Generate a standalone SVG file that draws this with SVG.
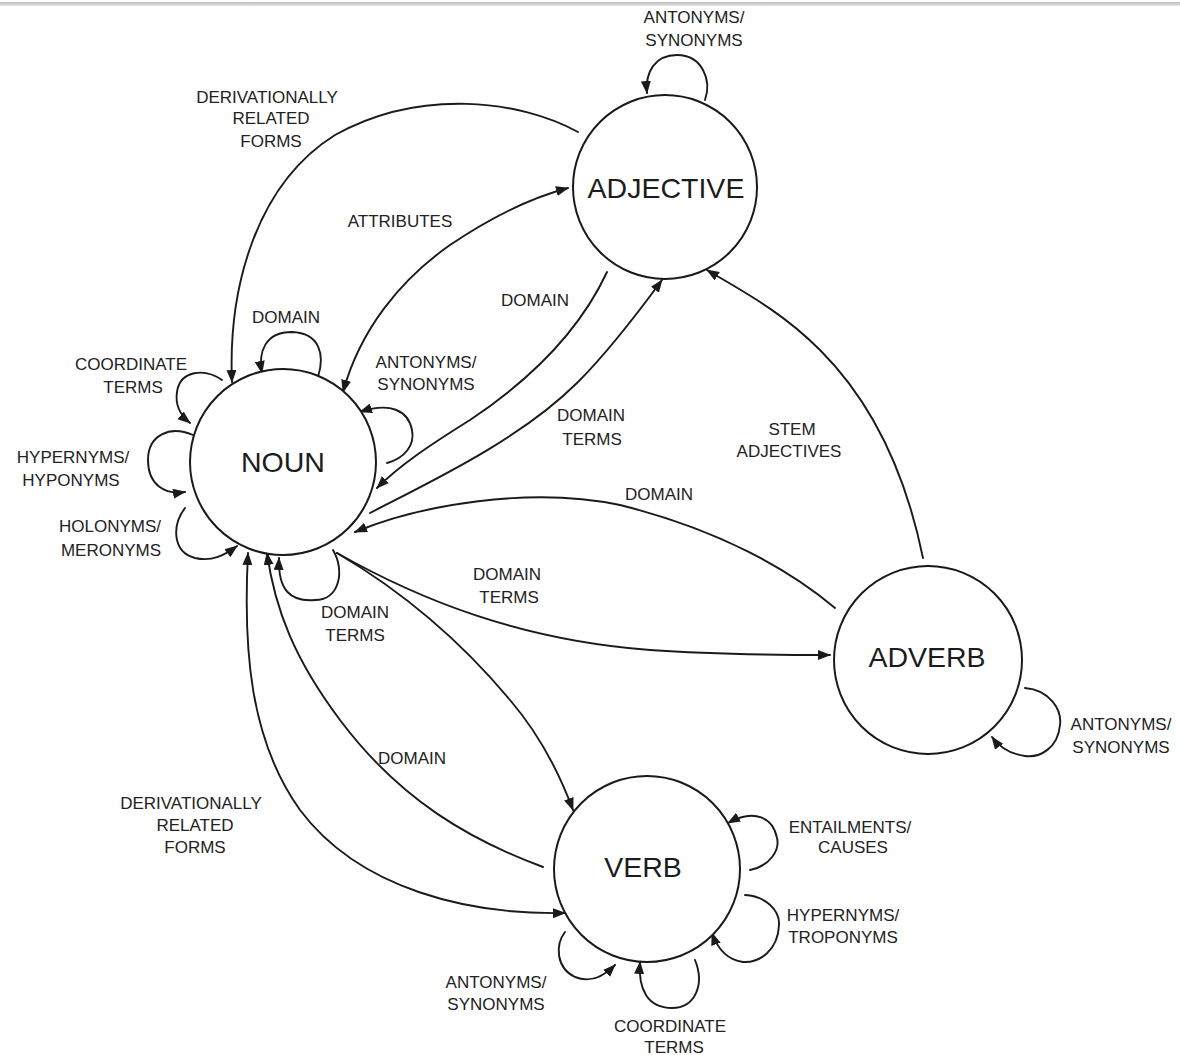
<svg xmlns="http://www.w3.org/2000/svg" width="1180" height="1055" viewBox="0 0 1180 1055">
  <defs>
    <marker id="arrow" markerUnits="userSpaceOnUse" markerWidth="13" markerHeight="10" refX="12" refY="5" orient="auto-start-reverse">
      <path d="M0,0 L13,5 L0,10 z" fill="#1a1a1a"/>
    </marker>
    <linearGradient id="bar" x1="0" y1="0" x2="0" y2="1">
      <stop offset="0" stop-color="#bdbdbd"/>
      <stop offset="1" stop-color="#e6e6e6"/>
    </linearGradient>
  </defs>
  <style>
    .node circle { fill: #ffffff; stroke: #1a1a1a; stroke-width: 2; }
    .node text { font-family: "Liberation Sans", Arial, sans-serif; font-size: 28.5px; fill: #1c1c1c; text-anchor: middle; }
    .edge { fill: none; stroke: #1a1a1a; stroke-width: 1.9; stroke-linecap: round; }
    .end { marker-end: url(#arrow); }
    .both { marker-start: url(#arrow); marker-end: url(#arrow); }
    .lbl { font-family: "Liberation Sans", Arial, sans-serif; font-size: 17px; fill: #222222; text-anchor: middle; }
  </style>

  <rect width="1180" height="1055" fill="#ffffff"/>
  <rect x="0" y="2" width="1180" height="4" fill="url(#bar)"/>

  <!-- connectors -->
  <g id="connectors">
    <!-- adjective -> noun: derivationally related forms -->
    <path class="edge end" d="M578,132 C520,100 420,88 335,135 C255,185 228,290 232,382"/>
    <!-- noun <-> adjective: attributes -->
    <path class="edge both" d="M343,392 C360,330 400,280 450,245 C490,218 530,198 568,188"/>
    <!-- adjective -> noun: domain -->
    <path class="edge end" d="M607,272 C580,330 530,380 470,420 C430,445 400,465 377,488"/>
    <!-- noun -> adjective: domain terms -->
    <path class="edge end" d="M370,513 C430,482 520,440 578,382 C610,350 640,310 662,280"/>
    <!-- adverb -> noun: domain -->
    <path class="edge end" d="M835,608 C790,570 720,530 620,505 C530,486 420,505 355,532"/>
    <!-- adverb -> adjective: stem adjectives -->
    <path class="edge end" d="M923,558 C905,470 870,400 820,350 C780,310 740,290 707,270"/>
    <!-- noun -> adverb: domain terms -->
    <path class="edge end" d="M337,553 C420,600 520,640 650,650 C720,655 780,655 830,655"/>
    <!-- noun -> verb -->
    <path class="edge end" d="M337,553 C400,590 460,640 510,700 C540,735 560,775 573,810"/>
    <!-- verb -> noun: domain -->
    <path class="edge end" d="M543,867 C470,840 400,800 340,720 C295,660 275,610 267,553"/>
    <!-- noun <-> verb: derivationally related forms -->
    <path class="edge both" d="M248,553 C243,650 250,740 300,810 C360,890 470,915 565,913"/>

    <!-- noun self loops -->
    <path class="edge end" d="M318,377 C325,355 320,333 292,332 C265,332 258,352 262,373"/>
    <path class="edge end" d="M222,380 C205,368 180,370 177,392 C175,405 180,415 190,423"/>
    <path class="edge end" d="M193,435 C170,425 148,435 148,460 C148,485 165,495 185,492"/>
    <path class="edge end" d="M185,508 C172,525 172,552 195,558 C212,562 225,555 237,546"/>
    <path class="edge end" d="M333,550 C345,570 340,600 315,600 C290,602 278,590 279,558"/>
    <path class="edge end" d="M387,463 C405,458 415,445 412,430 C408,410 390,402 360,412"/>

    <!-- adjective self loop -->
    <path class="edge end" d="M705,100 C712,80 702,55 677,55 C655,55 645,72 647,93"/>

    <!-- adverb self loop -->
    <path class="edge end" d="M1025,688 C1050,690 1062,710 1060,725 C1058,748 1040,758 1025,756 C1010,754 1000,748 992,737"/>

    <!-- verb self loops -->
    <path class="edge end" d="M750,870 C770,866 780,850 777,838 C773,818 755,808 728,823"/>
    <path class="edge end" d="M745,895 C765,896 780,910 779,925 C778,950 760,963 743,962 C728,960 718,950 712,933"/>
    <path class="edge end" d="M695,960 C705,985 695,1008 672,1008 C648,1008 638,990 640,962"/>
    <path class="edge end" d="M565,932 C555,945 556,968 575,977 C592,984 605,975 615,965"/>
  </g>

  <!-- nodes -->
  <g id="noun" class="node">
    <circle cx="283" cy="462" r="93"/>
    <text x="283" y="472">NOUN</text>
  </g>
  <g id="adjective" class="node">
    <circle cx="665" cy="187" r="92"/>
    <text x="666" y="198">ADJECTIVE</text>
  </g>
  <g id="adverb" class="node">
    <circle cx="928" cy="660" r="94"/>
    <text x="927" y="667">ADVERB</text>
  </g>
  <g id="verb" class="node">
    <circle cx="647" cy="869" r="93"/>
    <text x="643" y="877">VERB</text>
  </g>

  <!-- edge labels -->
  <g id="labels">
    <text class="lbl" x="694" y="23">ANTONYMS/</text>
    <text class="lbl" x="694" y="46">SYNONYMS</text>

    <text class="lbl" x="267" y="103">DERIVATIONALLY</text>
    <text class="lbl" x="271" y="124">RELATED</text>
    <text class="lbl" x="271" y="147">FORMS</text>

    <text class="lbl" x="400" y="227">ATTRIBUTES</text>
    <text class="lbl" x="535" y="306">DOMAIN</text>
    <text class="lbl" x="286" y="323">DOMAIN</text>

    <text class="lbl" x="426" y="368">ANTONYMS/</text>
    <text class="lbl" x="426" y="390">SYNONYMS</text>

    <text class="lbl" x="131" y="370">COORDINATE</text>
    <text class="lbl" x="133" y="393">TERMS</text>

    <text class="lbl" x="73" y="463">HYPERNYMS/</text>
    <text class="lbl" x="71" y="486">HYPONYMS</text>

    <text class="lbl" x="110" y="532">HOLONYMS/</text>
    <text class="lbl" x="111" y="556">MERONYMS</text>

    <text class="lbl" x="591" y="421">DOMAIN</text>
    <text class="lbl" x="592" y="445">TERMS</text>

    <text class="lbl" x="792" y="435">STEM</text>
    <text class="lbl" x="789" y="457">ADJECTIVES</text>

    <text class="lbl" x="659" y="500">DOMAIN</text>

    <text class="lbl" x="507" y="580">DOMAIN</text>
    <text class="lbl" x="509" y="603">TERMS</text>

    <text class="lbl" x="355" y="618">DOMAIN</text>
    <text class="lbl" x="355" y="641">TERMS</text>

    <text class="lbl" x="1121" y="730">ANTONYMS/</text>
    <text class="lbl" x="1121" y="753">SYNONYMS</text>

    <text class="lbl" x="412" y="764">DOMAIN</text>

    <text class="lbl" x="191" y="809">DERIVATIONALLY</text>
    <text class="lbl" x="195" y="831">RELATED</text>
    <text class="lbl" x="195" y="853">FORMS</text>

    <text class="lbl" x="850" y="833">ENTAILMENTS/</text>
    <text class="lbl" x="853" y="853">CAUSES</text>

    <text class="lbl" x="843" y="921">HYPERNYMS/</text>
    <text class="lbl" x="843" y="943">TROPONYMS</text>

    <text class="lbl" x="496" y="988">ANTONYMS/</text>
    <text class="lbl" x="496" y="1010">SYNONYMS</text>

    <text class="lbl" x="670" y="1032">COORDINATE</text>
    <text class="lbl" x="674" y="1053">TERMS</text>
  </g>
</svg>
